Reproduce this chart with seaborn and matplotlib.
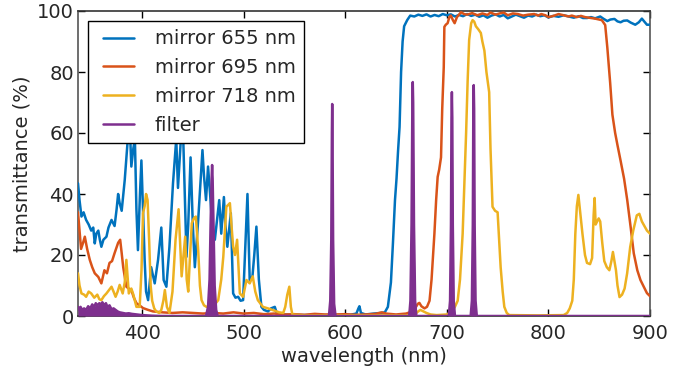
import numpy as np
import pandas as pd
import matplotlib
matplotlib.use("Agg")
import matplotlib.pyplot as plt
import seaborn as sns
from matplotlib.legend_handler import HandlerLine2D

# values (wavelength in nm, transmittance in %)
wl_655 = [337, 338.5, 340.4, 342.5, 345, 347.5, 350, 352, 353.5, 355, 357, 358.5, 360, 362, 365, 367, 370, 373, 375,
          376.5, 378, 380, 383, 386, 388, 389.5, 391.5, 393, 394.5, 396, 398, 399.4, 401, 402.6, 404, 406, 409,
          412.5, 415.8, 419, 421.3, 424, 427, 430.5, 433.7, 435.4, 438.6, 440.6, 443.8, 445.5, 447.8, 450, 452,
          455.3, 459.5, 461, 463, 465, 467, 469, 471.7, 474, 476, 478, 480.6, 482, 484, 487.4, 489.7, 492, 494.6,
          497, 499.5, 502, 503.8, 506, 508.7, 510.5, 512.6, 515, 517.5, 520, 524, 527, 530.7, 533, 540, 555, 570,
          590, 605, 611, 613, 614, 615.5, 620, 628, 635, 639, 642, 645, 647, 649, 650.5, 652,
          653.5, 655, 656.5, 658, 661, 664, 668, 672, 676, 680, 684, 688, 692, 696, 700, 704, 708, 712, 716, 720,
          724, 728, 732, 736, 740, 744, 748, 752, 756, 760, 764, 768, 772, 776, 780, 784, 788, 792, 796, 800, 805,
          810, 815, 820, 825, 830, 834, 838, 842, 846, 851, 854, 858, 861, 865, 868, 871, 874, 877.6, 881, 885.5,
          889, 892, 894.5, 897, 900]
t_655 = [43.5, 38, 32.6, 34, 31.5, 30, 28, 29, 23.8, 27, 28, 25, 22.7, 25, 26, 29, 31.5, 29.5, 35,
         40, 37, 34.5, 44.6, 58, 62, 49, 55, 58, 35, 21.6, 40, 51, 35, 18.4, 8, 5.2, 16,
         10.7, 18.4, 29, 11.8, 9.6, 22.7, 43.5, 58, 42, 60, 58, 19.4, 30, 52, 30, 16,
         31.5, 54.4, 46, 38, 49, 40, 30, 25, 32, 38, 27, 39, 30, 22.7, 33.7, 7.4, 6, 6.3,
         5, 5.2, 25, 40, 11.8, 13, 20, 29.3, 12, 3, 2, 1.5, 2.5, 3, 0.5, 0.5, 0.3, 0.3,
         0.3, 0.4, 0.8, 2.5, 3.2, 1, 0.5, 0.8, 1, 1.2, 3, 11, 24, 38, 45, 54,
         62, 80, 90, 95, 97, 98.5, 98.2, 98.8, 98.4, 98.9, 98.2, 98.7, 98.3, 99, 98.6, 98.9, 98.2, 98.7, 98.3, 99,
         98.4, 98.8, 98.1, 98.6, 97.8, 98.5, 98.9, 98.2, 98.7, 97.6, 98.2, 98.8, 98.3, 97.8, 98.5, 98.2, 98.8, 98.3, 98.6, 97.9, 98.4,
         98.1, 98.6, 98.2, 97.8, 98.3, 97.7, 97.7, 98.0, 97.6, 98.2, 97.5, 96.7, 97.2, 97.4, 96.6, 96.3, 96.8, 96.9, 96.2, 95.5,
         96.3, 97.5, 96.5, 95.5, 95.5]

wl_695 = [337, 338.5, 340, 342, 343.7, 346, 348.6, 351, 353.5, 357, 360, 363, 365.5, 368, 370.5, 373, 376.5, 378.5,
          380, 381.5, 384.6, 387, 389.5, 392, 394.5, 397.5, 401, 406, 410.8, 420,
          430, 440, 450, 460, 470, 480, 490, 500, 510, 520, 530, 540, 550, 560, 570, 580, 590, 600, 610, 620,
          630, 636, 640, 650, 660, 666, 669.7, 671.5, 673, 675, 678, 680.5, 683, 685, 687.8, 689.5, 691, 692.5,
          694.3, 695.5, 697, 697.6, 699, 700.8, 702.5, 704, 706, 707.7, 710, 714, 717, 720, 725, 730, 735, 740,
          743, 748, 752, 756, 760, 765, 770, 775, 780, 786, 790, 793, 797, 800, 805, 810, 815, 820, 823, 828,
          832, 836, 840, 846, 852.6, 855.9, 858, 860.8, 863, 865.7, 868, 871, 874.5, 877.6, 881, 884, 887.5,
          890.6, 894, 897, 900]
t_695 = [34, 28, 22, 24, 26, 22, 18.4, 16, 14, 12.8, 10.7, 15, 14, 17.4, 18, 20.6, 24, 25,
         20.6, 16, 9.6, 9, 8.5, 6, 4.2, 3.5, 2.6, 2, 1.5, 1.2,
         1, 1.2, 1, 0.8, 1, 0.8, 1.2, 0.8, 1, 0.6, 0.8, 0.5, 0.6, 0.4, 0.7, 0.5, 0.5, 0.6, 0.4, 0.5,
         0.7, 1.2, 0.8, 0.5, 0.8, 1.5, 3, 4, 4.3, 3.2, 2.5, 3, 5, 12, 27, 38, 45.6, 48,
         52, 68, 81.6, 94.8, 95.5, 96, 98, 98.5, 97, 96, 98, 99.6, 99, 98.8, 99.3, 98.6, 99.2, 98.7,
         99.5, 98.8, 99.2, 99.5, 98.6, 99.2, 99, 98.5, 98.8, 99, 98.5, 99, 98.6, 98, 98.4, 99, 98.6, 98.2, 98.5, 98,
         98.4, 98, 97.8, 97.5, 97, 95.4, 88, 76.4, 66, 60, 56, 51, 45, 38, 29, 20.6, 15,
         11.8, 9.5, 7.5, 6.5]

wl_718 = [337, 338.5, 340.4, 343, 345, 347.5, 350, 353, 356, 358, 360, 362.5, 365, 367.5, 370, 372, 374, 376, 378,
          381, 383, 384.6, 386, 387, 389.5, 391.5, 394.5, 397.7, 399.5, 401, 402.6, 404, 405.5, 407, 408.5, 410,
          412, 414, 417, 419, 421, 422.5, 424.5, 427, 430, 433, 436, 439, 442.5, 444, 445.5, 447, 449, 451, 453,
          455.3, 457, 458.6, 461, 463.5, 466, 471, 475, 478, 480, 483, 486.5, 488, 489.7, 491.5, 493.6, 496.3,
          499.5, 502.8, 506, 509, 511.5, 514, 519, 524, 530, 535, 539, 541, 543, 545, 546.5, 548, 560, 600, 640, 665,
          668, 671, 674, 677, 680, 684, 690, 700, 705, 708, 710.7, 713, 715.6, 717.5, 719, 720.5, 722, 724, 725.4, 727,
          728.6, 731, 733.5, 735, 737, 739, 741.7, 743, 745, 747.5, 750, 752, 753, 755, 756.6, 759, 761.5, 790, 815, 818.5,
          821, 823.5, 825, 826.5, 828, 829.5, 831, 833.5, 836, 838, 841, 843, 844.5, 845.5, 846.5, 848, 849.5, 851, 853, 855,
          857.5, 860, 862, 863.5, 865, 866.5, 868, 870, 872.5, 875, 877.5, 880.5, 883.5, 887, 889.5, 892, 894.5, 897, 900]
t_718 = [14, 10, 7.4, 7, 6.3, 8, 7.4, 6, 7, 5.5, 5.2, 6.5, 7.4, 8.5, 9.6, 8, 6.3, 8, 10.2,
         7.4, 11, 18.4, 12, 7.4, 9, 7, 3, 3, 15, 33.7, 36, 40, 38, 25, 10, 5,
         2.5, 1.5, 1, 2, 5, 8.5, 3, 1, 8, 25, 35, 13, 26, 12, 8, 18, 30.4, 32, 32.6,
         21.6, 10, 5.2, 3.5, 3, 3, 3.5, 5.2, 12, 19.4, 35.8, 37, 30, 22.7, 20, 25, 7.4,
         6.3, 11.8, 10.7, 13, 8, 5.2, 3, 2.5, 1.8, 1.2, 1, 3, 7, 9.6, 3, 0.5, 0.2, 0.2, 0.2, 0.2,
         0.3, 1.3, 2, 1.5, 1, 0.5, 0.3, 0.5, 1.5, 3, 5, 12, 27, 45, 60, 77, 90.5, 96, 97, 96.5,
         95, 94, 92.8, 90, 87, 80, 73.4, 55, 35.8, 34.5, 34, 22, 16, 8, 3, 1, 0.3, 0.2, 0.3, 1,
         2.5, 5, 12, 27, 36, 39.7, 35, 27, 20, 17.4, 17, 19, 33, 38.7, 30, 31, 32, 31, 24, 18,
         16, 15, 18, 21, 18, 15, 10, 6.2, 7, 9, 14, 22.6, 28, 33, 33.5, 31, 29.5, 28, 27]

wl_filter = [337, 338, 339.5, 341, 343, 345, 347, 349, 351, 353, 354.5, 356, 358, 359.5, 361, 363, 364.5, 366, 368, 370,
             372, 374, 376, 378, 381, 384, 387, 390, 395, 400, 410, 420, 463, 465, 466.5, 467.5, 468.5, 469, 469.5, 470.5,
             471.5, 473, 474.5, 584, 585.3, 586.3, 586.9, 587.2, 587.5, 588.1, 589.1, 590.5, 663, 664.2, 665.3, 666.1, 666.5,
             666.9, 667.7, 668.8, 670, 702, 703.2, 704.1, 704.6, 705, 705.4, 705.9, 706.8, 708, 723.5, 724.7, 725.6, 726.1,
             726.5, 726.9, 727.4, 728.3, 729.5, 900]
t_filter = [3, 2, 3, 2, 2.5, 2, 3.2, 2.5, 3.8, 3, 4.2, 3.5, 4.2, 3.8, 4.5, 3.5, 4.2, 3, 3.5, 2.2,
            2.5, 2, 1.5, 1.2, 1, 0.8, 0.9, 0.7, 0.5, 0.3, 0.1, 0, 0, 3, 12, 30, 45, 49.5, 45, 28,
            10, 2, 0, 0, 5, 25, 60, 69.5, 60, 25, 4, 0, 0, 5, 30, 70, 76.7,
            70, 30, 5, 0, 0, 5, 30, 65, 73.4, 65, 30, 5, 0, 0, 5, 30, 68,
            75.7, 68, 30, 5, 0, 0]

series = [
    ("mirror 655 nm", wl_655, t_655, "#0072BD"),
    ("mirror 695 nm", wl_695, t_695, "#D95319"),
    ("mirror 718 nm", wl_718, t_718, "#EDB120"),
    ("filter", wl_filter, t_filter, "#7E2F8E"),
]

sns.set_style("ticks")
plt.rcParams["font.family"] = ["DejaVu Sans"]

fig = plt.figure(figsize=(6.97, 3.72), dpi=100)
ax = fig.add_axes([78 / 697, 56 / 372, 572 / 697, 305 / 372])

for name, wl, t, col in series:
    df = pd.DataFrame({"wavelength": wl, "transmittance": t})
    if name == "filter":
        ax.fill_between(df["wavelength"], 0, df["transmittance"], color=col, lw=0, zorder=3)
    sns.lineplot(data=df, x="wavelength", y="transmittance", ax=ax, color=col,
                 lw=1.8, label=name, estimator=None, sort=False, zorder=3)

ax.set_xlim(337, 900)
ax.set_ylim(0, 100)
ax.set_xticks([400, 500, 600, 700, 800, 900])
ax.set_yticks([0, 20, 40, 60, 80, 100])
ax.tick_params(direction="in", top=True, right=True, length=5, width=1,
               labelsize=14, color="black")
ax.tick_params(axis="x", pad=6)
ax.tick_params(axis="y", pad=3)
for side, sp in ax.spines.items():
    sp.set_color("#333333" if side in ("top", "bottom") else "#555555")
    sp.set_linewidth(1.2)

ax.set_xlabel("wavelength (nm)", fontsize=14, labelpad=3)
ax.set_ylabel("transmittance (%)", fontsize=14, labelpad=4)

# line handles indented inside their box, like the original legend
handles, labels = ax.get_legend_handles_labels()
leg = ax.legend(handles, labels, loc="upper left", fontsize=14, frameon=True, fancybox=False,
                framealpha=1, edgecolor="black", handlelength=2.27, handletextpad=0.72,
                labelspacing=0.5, borderaxespad=0.5, borderpad=0.45,
                handler_map={h: HandlerLine2D(numpoints=2, marker_pad=0.36) for h in handles})
leg.get_frame().set_linewidth(1.0)
leg.set_zorder(10)

fig.savefig("out.png", dpi=100)
